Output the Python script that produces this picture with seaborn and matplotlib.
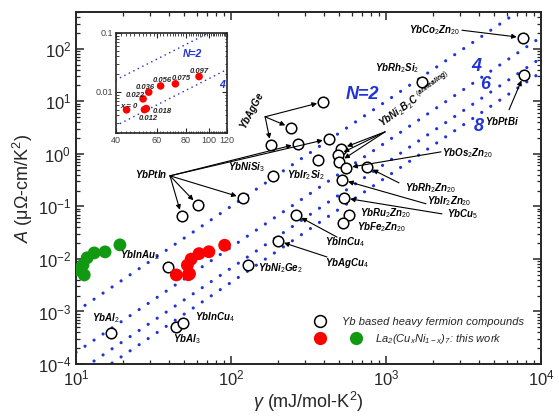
import numpy as np
import pandas as pd
import matplotlib
matplotlib.use("Agg")
import matplotlib.pyplot as plt
import matplotlib.ticker as mticker
import seaborn as sns
from matplotlib.lines import Line2D
from matplotlib.legend_handler import HandlerTuple

# ---------------- data ----------------
# Yb based heavy fermion compounds: Sommerfeld coefficient (mJ/mol-K^2) and A (uOhm-cm/K^2)
yb_names = ["YbAgGe", "YbAgGe", "YbAgGe",
            "YbPtIn", "YbPtIn", "YbPtIn", "YbPtIn", "YbPtIn",
            "YbNiSi3", "YbIr2Si2",
            "YbNi2B2C", "YbNi2B2C", "YbNi2B2C",
            "YbOs2Zn20", "YbRh2Zn20", "YbIr2Zn20", "YbCu5",
            "YbRu2Zn20", "YbFe2Zn20", "YbInCu4", "YbAgCu4",
            "YbInAu2", "YbNi2Ge2", "YbAl2", "YbAl3", "YbInCu4",
            "YbRh2Si2", "YbCo2Zn20", "YbPtBi"]
yb_gamma = [393, 244, 181,
            270, 428, 119, 61, 48,
            187, 364,
            513, 490, 498,
            552, 754, 520, 535,
            577, 528, 262, 201,
            39, 129, 16.8, 44, 49,
            1706, 7650, 7760]
yb_A = [9.78, 3.13, 1.48,
        1.55, 1.93, 0.145, 0.107, 0.066,
        0.38, 0.77,
        1.25, 0.96, 0.70,
        0.54, 0.565, 0.32, 0.145,
        0.069, 0.0485, 0.069, 0.022,
        0.0070, 0.0077, 3.9e-4, 5.1e-4, 6.0e-4,
        23.5, 162, 32]

# La2(CuxNi1-x)7, this work
la_x_labels = ["x = 0", "0.012", "0.018", "0.022", "0.036", "0.056", "0.075", "0.097"]
la_gamma = [44.4, 53.0, 54.0, 52.3, 55.3, 62.2, 72.0, 91.0]
la_A = [0.00495, 0.0050, 0.0052, 0.0076, 0.0099, 0.0126, 0.0137, 0.0182]

green_gamma = [10.3, 11.3, 11.1, 11.8, 13.1, 15.4, 19.2]
green_A = [0.0062, 0.00495, 0.0077, 0.0105, 0.0130, 0.0136, 0.0185]

# Kadowaki-Woods lines for degeneracy N: A/gamma^2 = 1e-5 / (N(N-1)/2)
kw_N = [2, 4, 6, 8]
kw_base = 1.0e-5
gamma_span = [10, 1e4]

# ---------------- style ----------------
sns.set_style("ticks")
plt.rcParams["font.family"] = ["Liberation Sans", "DejaVu Sans"]
plt.rcParams["mathtext.fontset"] = "custom"
plt.rcParams["mathtext.rm"] = "Liberation Sans"
plt.rcParams["mathtext.it"] = "Liberation Sans:italic:bold"
plt.rcParams["mathtext.sf"] = "Liberation Sans:italic"
plt.rcParams["mathtext.bf"] = "Liberation Sans:bold"

BLUE = "#1f33d6"
RED = "#ff0000"
GREEN = "#119911"

fig = plt.figure(figsize=(5.59, 4.18), dpi=100)
ax = fig.add_axes([76 / 559, 1 - 364 / 418, 465 / 559, 352 / 418])
ax.set_xscale("log")
ax.set_yscale("log")

# KW lines
kw_rows = []
for n in kw_N:
    coef = kw_base / (n * (n - 1) / 2)
    for g in gamma_span:
        kw_rows.append({"gamma": g, "A": coef * g ** 2, "N": n})
kw_df = pd.DataFrame(kw_rows)
for n, sub in kw_df.groupby("N"):
    ax.plot(sub["gamma"], sub["A"], color=BLUE, lw=2.3,
            linestyle=(0, (0.01, 3.4)), dash_capstyle="round", zorder=1)

yb_df = pd.DataFrame({"gamma": yb_gamma, "A": yb_A, "name": yb_names})
la_df = pd.DataFrame({"gamma": la_gamma, "A": la_A, "x": la_x_labels})
gr_df = pd.DataFrame({"gamma": green_gamma, "A": green_A})

sns.scatterplot(data=yb_df, x="gamma", y="A", ax=ax, s=58, facecolor="white",
                edgecolor="black", linewidth=1.1, zorder=4, legend=False)
sns.scatterplot(data=la_df, x="gamma", y="A", ax=ax, s=85, color=RED,
                edgecolor="none", zorder=5, legend=False)
sns.scatterplot(data=gr_df, x="gamma", y="A", ax=ax, s=85, color=GREEN,
                edgecolor="none", zorder=5, legend=False)

ax.set_xlim(10, 1e4)
ax.set_ylim(1e-4, 500)

ax.tick_params(which="both", direction="in", top=True, right=True, labelsize=12)
ax.tick_params(which="major", length=6, width=1.1)
ax.tick_params(which="minor", length=3, width=0.9)
ax.xaxis.set_minor_locator(mticker.LogLocator(base=10, subs=np.arange(2, 10), numticks=20))
ax.yaxis.set_minor_locator(mticker.LogLocator(base=10, subs=np.arange(2, 10), numticks=20))
ax.xaxis.set_minor_formatter(mticker.NullFormatter())
ax.yaxis.set_minor_formatter(mticker.NullFormatter())
for sp in ax.spines.values():
    sp.set_linewidth(1.4)

ax.set_xlabel(r"$\mathsf{\gamma}$ (mJ/mol-K$^2$)", fontsize=13, labelpad=1)
ax.set_ylabel(r"$\mathsf{A}$ (μΩ-cm/K$^2$)", fontsize=13, labelpad=2)

# ---------------- labels and arrows ----------------
lab_kw = dict(fontsize=7, color="black", zorder=6)
arr = dict(arrowstyle="-|>", color="black", lw=0.8, mutation_scale=7,
           shrinkA=0, shrinkB=4.5)


def point(i):
    return (yb_gamma[i], yb_A[i])


def arrow(start, i):
    ax.annotate("", xy=point(i), xytext=start, arrowprops=arr, zorder=6)


# group labels with several arrows
ax.text(138, 6.6, r"$\mathit{YbAgGe}$", rotation=62, ha="center", va="center", **lab_kw)
for i in (0, 1, 2):
    arrow((166, 5.07), i)

ax.text(30.5, 0.416, r"$\mathit{YbPtIn}$", ha="center", va="center", **lab_kw)
for i in (3, 4, 5, 6, 7):
    arrow((40.4, 0.381), i)

ax.text(990, 2.75, r"$\mathit{YbNi_2B_2C\ ^{(annealing)}}$", rotation=36,
        ha="left", va="bottom", rotation_mode="anchor", **lab_kw)
for i in (10, 11, 12):
    arrow((986, 2.62), i)

# single labels
ax.text(125, 0.565, r"$\mathit{YbNiSi_3}$", ha="center", va="center", **lab_kw)
ax.text(305, 0.398, r"$\mathit{YbIr_2Si_2}$", ha="center", va="center", **lab_kw)

ax.text(2300, 1.045, r"$\mathit{YbOs_2Zn_{20}}$", ha="left", va="center", **lab_kw)
arrow((2265, 1.09), 13)
ax.text(1327, 0.225, r"$\mathit{YbRh_2Zn_{20}}$", ha="left", va="center", **lab_kw)
arrow((1213, 0.28), 14)
ax.text(1841, 0.127, r"$\mathit{YbIr_2Zn_{20}}$", ha="left", va="center", **lab_kw)
arrow((1811, 0.112), 15)
ax.text(2477, 0.072, r"$\mathit{YbCu_5}$", ha="left", va="center", **lab_kw)
arrow((2296, 0.072), 16)
ax.text(679, 0.075, r"$\mathit{YbRu_2Zn_{20}}$", ha="left", va="center", **lab_kw)
ax.text(650, 0.041, r"$\mathit{YbFe_2Zn_{20}}$", ha="left", va="center", **lab_kw)
ax.text(404, 0.021, r"$\mathit{YbInCu_4}$", ha="left", va="center", **lab_kw)
arrow((483, 0.026), 19)
ax.text(404, 0.0084, r"$\mathit{YbAgCu_4}$", ha="left", va="center", **lab_kw)
arrow((416, 0.0109), 20)
ax.text(19.2, 0.0119, r"$\mathit{YbInAu_2}$", ha="left", va="center", **lab_kw)
ax.text(149, 0.00675, r"$\mathit{YbNi_2Ge_2}$", ha="left", va="center", **lab_kw)
ax.text(12.7, 7.5e-4, r"$\mathit{YbAl_2}$", ha="left", va="center", **lab_kw)
ax.text(42.3, 3.0e-4, r"$\mathit{YbAl_3}$", ha="left", va="center", **lab_kw)
ax.text(58.6, 7.9e-4, r"$\mathit{YbInCu_4}$", ha="left", va="center", **lab_kw)
ax.text(1178, 43.5, r"$\mathit{YbRh_2Si_2}$", ha="center", va="center", **lab_kw)
ax.text(3000, 230, r"$\mathit{YbCo_2Zn_{20}}$", ha="right", va="center", **lab_kw)
arrow((3090, 225), 27)
ax.text(5600, 4.25, r"$\mathit{YbPtBi}$", ha="center", va="center", **lab_kw)
arrow((6220, 6.9), 28)

# degeneracy labels
n_kw = dict(color=BLUE, fontsize=13, fontweight="bold", style="italic",
            ha="center", va="center", zorder=6)
ax.text(700, 13.3, "N=2", **n_kw)
ax.text(3810, 45.4, "4", **n_kw)
ax.text(4360, 20.6, "6", **n_kw)
ax.text(3950, 3.27, "8", **n_kw)

# legend
h1 = Line2D([], [], marker="o", ls="", mfc="white", mec="black", ms=8.5, mew=1.1)
leg1 = ax.legend([h1], ["Yb based heavy fermion compounds"], loc="center left",
                 bbox_to_anchor=(0.513, 0.119), frameon=False, borderpad=0,
                 borderaxespad=0, handlelength=1.0, handletextpad=1.5,
                 prop=dict(family="Liberation Sans", style="italic", size=8))
ax.add_artist(leg1)
h_red = Line2D([], [], marker="o", ls="", color=RED, mec="none", ms=9.5)
h_green = Line2D([], [], marker="o", ls="", color=GREEN, mec="none", ms=9.5)
ax.legend([(h_red, h_green)],
          [r"La$_{\mathsf{2}}$(Cu$_{\mathsf{x}}$Ni$_{\mathsf{1-x}}$)$_{\mathsf{7}}$: this work"],
          handler_map={tuple: HandlerTuple(ndivide=None, pad=0)},
          loc="center left", bbox_to_anchor=(0.486, 0.071), frameon=False,
          borderpad=0, borderaxespad=0, handlelength=6.5, handletextpad=0.1,
          prop=dict(family="Liberation Sans", style="italic", size=8))

# ---------------- inset ----------------
axin = fig.add_axes([116 / 559, 1 - 133 / 418, 111 / 559, 100 / 418])
axin.set_xscale("log")
axin.set_yscale("log")
inset_span = [40, 120]
for n in kw_N[:2]:
    coef = kw_base / (n * (n - 1) / 2)
    axin.plot(inset_span, [coef * g ** 2 for g in inset_span], color=BLUE, lw=1.2,
              linestyle=(0, (0.01, 3.0)), dash_capstyle="round", zorder=1)
sns.scatterplot(data=la_df, x="gamma", y="A", ax=axin, s=30, color=RED,
                edgecolor="none", zorder=3, legend=False)
axin.set_xlim(40, 120)
axin.set_ylim(0.002, 0.1)
axin.set_xlabel("")
axin.set_ylabel("")

in_lab = [(45.7, 0.0056), (54.9, 0.00348), (63.1, 0.00458), (48.5, 0.00855),
          (53.5, 0.0117), (63.1, 0.01535), (76.1, 0.0166), (91.4, 0.0218)]
for txt, (gx, ay) in zip(la_x_labels, in_lab):
    axin.text(gx, ay, txt, fontsize=5.5, fontweight="bold", style="italic",
              ha="center", va="center", zorder=4)
axin.text(84.9, 0.044, "N=2", color=BLUE, fontsize=7.5, fontweight="bold",
          style="italic", ha="center", va="center")
axin.text(114, 0.0131, "4", color=BLUE, fontsize=7.5, fontweight="bold",
          style="italic", ha="center", va="center")

axin.xaxis.set_major_locator(mticker.FixedLocator([40, 60, 80, 100, 120]))
axin.xaxis.set_major_formatter(mticker.FixedFormatter(["40", "60", "80", "100", "120"]))
axin.xaxis.set_minor_locator(mticker.FixedLocator(np.arange(42, 120, 2)))
axin.xaxis.set_minor_formatter(mticker.NullFormatter())
axin.yaxis.set_major_locator(mticker.FixedLocator([0.01, 0.1]))
axin.yaxis.set_major_formatter(mticker.FixedFormatter(["0.01", "0.1"]))
axin.yaxis.set_minor_locator(mticker.LogLocator(base=10, subs=np.arange(2, 10), numticks=20))
axin.yaxis.set_minor_formatter(mticker.NullFormatter())
axin.tick_params(which="both", direction="in", top=True, right=True,
                 labelsize=6.5, labelcolor="#444444", pad=2)
axin.tick_params(which="major", length=3.5, width=0.8)
axin.tick_params(which="minor", length=1.8, width=0.6)
for sp in axin.spines.values():
    sp.set_linewidth(1.2)

fig.savefig("out.png", dpi=100)
